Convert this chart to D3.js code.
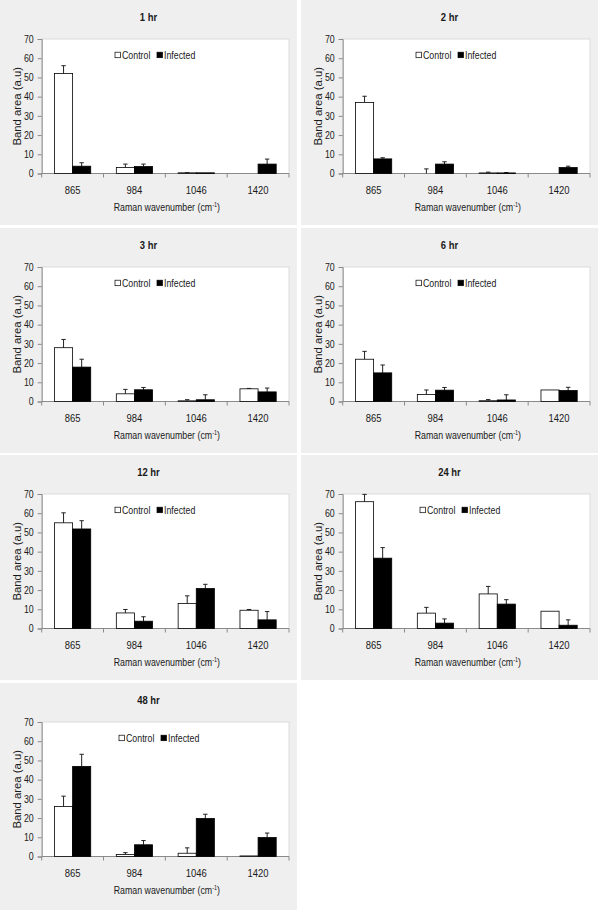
<!DOCTYPE html>
<html>
<head>
<meta charset="utf-8">
<script src="https://cdn.jsdelivr.net/npm/d3@7"></script>
<style>
  html, body { margin: 0; padding: 0; background: #ffffff; }
  svg { display: block; }
  text { font-family: "Liberation Sans", Arial, sans-serif; fill: #1a1a1a; }
</style>
</head>
<body>
<div id="chart"></div>
<script>
// ---- Data ----
const timeLabels = ["1 hr", "2 hr", "3 hr", "6 hr", "12 hr", "24 hr", "48 hr"];
const wavenumbers = ["865", "984", "1046", "1420"];
const seriesNames = ["Control", "Infected"];
const yTicks = [0, 10, 20, 30, 40, 50, 60, 70];

const controlMean = [
  [52, 3.1, 0.35, 0],
  [37, 0, 0.3, 0],
  [28, 4, 0.35, 6.6],
  [22, 3.6, 0.4, 6],
  [55, 8.1, 13, 9.5],
  [66, 8, 18, 9],
  [26, 1, 1.7, 0.3]
];
const controlErr = [
  [4.1, 1.8, 0.1, 0],
  [3.2, 2.4, 0.4, 0],
  [4.3, 2.3, 0.6, 0.2],
  [4.1, 2.4, 0.6, 0],
  [5.2, 1.8, 4, 0.4],
  [3.8, 3, 3.9, 0],
  [5.4, 1, 2.8, 0]
];
const infectedMean = [
  [3.8, 3.6, 0.35, 4.9],
  [7.6, 4.9, 0.3, 3.1],
  [17.9, 6.1, 0.9, 5],
  [14.9, 5.9, 0.8, 5.7],
  [51.8, 3.8, 20.8, 4.5],
  [36.6, 2.8, 12.7, 1.7],
  [46.9, 6.1, 19.8, 9.9]
];
const infectedErr = [
  [1.8, 1.3, 0, 2.6],
  [0.6, 1.2, 0.2, 0.7],
  [4.1, 1.2, 2.6, 2],
  [4.1, 1.4, 2.7, 1.7],
  [4.3, 2.3, 2.2, 4.3],
  [5.5, 2.2, 2.3, 2.8],
  [6.3, 2.2, 2.2, 2.3]
];

// ---- Layout ----
const W = 600, H = 910;
const colX = [0, 301];
const rowY = [0, 228, 455, 683];
const panelW = 297, panelH = 225;
const plot = { left: 41.7, top: 39, width: 247.3, height: 134.5 };
const SX = 0.84; // horizontal text compression

function txt(parent, x, y, str, size, anchor, sx, weight) {
  const gg = parent.append("g").attr("transform", `translate(${x},${y}) scale(${sx},1)`);
  const t = gg.append("text").attr("x", 0).attr("y", 0).attr("font-size", size)
    .attr("text-anchor", anchor || "start");
  if (weight) t.attr("font-weight", weight);
  if (str !== null) t.text(str);
  return t;
}

const svg = d3.select("#chart").append("svg").attr("width", W).attr("height", H);
svg.append("rect").attr("width", W).attr("height", H).attr("fill", "#ffffff");

const x0 = d3.scaleBand().domain(wavenumbers).range([0, plot.width]).paddingInner(0.414).paddingOuter(0.207);
const x1 = d3.scaleBand().domain(seriesNames).range([0, x0.bandwidth()]);
const y = d3.scaleLinear().domain([0, 70]).range([plot.height, 0]);

timeLabels.forEach((t, i) => {
  const col = i % 2, row = Math.floor(i / 2);
  const ph = row === 3 ? H - rowY[row] : panelH;
  const p = svg.append("g").attr("transform", `translate(${colX[col]},${rowY[row]})`);
  p.append("rect").attr("width", panelW).attr("height", ph).attr("fill", "#efefef");

  // title
  txt(p, panelW / 2, 20.5, t, 10.5, "middle", 0.9, "bold");

  const g = p.append("g").attr("transform", `translate(${plot.left},${plot.top})`);
  g.append("rect").attr("width", plot.width).attr("height", plot.height)
    .attr("fill", "#ffffff").attr("stroke", "#dcdcdc").attr("stroke-width", 1);

  // y axis
  const ya = g.append("g").call(d3.axisLeft(y).tickValues(yTicks).tickSize(4).tickFormat(""));
  ya.select(".domain").attr("stroke", "#8a8a8a");
  ya.selectAll(".tick line").attr("stroke", "#8a8a8a");
  yTicks.forEach(v => txt(g, -8, y(v) + 3.8, String(v), 10.5, "end", SX));

  // x axis line + separators
  g.append("line").attr("x1", 0).attr("x2", plot.width).attr("y1", plot.height).attr("y2", plot.height)
    .attr("stroke", "#8a8a8a");
  const seps = d3.range(wavenumbers.length + 1).map(k => k * x0.step());
  g.selectAll(".sep").data(seps).enter().append("line")
    .attr("x1", d => d).attr("x2", d => d).attr("y1", plot.height).attr("y2", plot.height + 4)
    .attr("stroke", "#8a8a8a");
  wavenumbers.forEach(w => txt(g, x0(w) + x0.bandwidth() / 2, plot.height + 20.5, w, 10.5, "middle", 0.9));

  // x title
  const xt = txt(g, plot.width / 2 + 1.5, plot.height + 37, null, 10.5, "middle", SX);
  xt.append("tspan").text("Raman wavenumber  (cm");
  xt.append("tspan").attr("dy", -3.8).attr("font-size", 6.5).text("-1");
  xt.append("tspan").attr("dy", 3.8).text(")");

  // y title
  p.append("text").attr("transform", `translate(20.5,${plot.top + plot.height / 2}) rotate(-90)`)
    .attr("text-anchor", "middle").attr("font-size", 11.3).text("Band area (a.u)");

  // bars
  const means = [controlMean[i], infectedMean[i]];
  const errs = [controlErr[i], infectedErr[i]];
  const fills = ["#ffffff", "#000000"];
  seriesNames.forEach((s, si) => {
    wavenumbers.forEach((w, wi) => {
      const v = means[si][wi], e = errs[si][wi];
      const bx = x0(w) + x1(s);
      const cx = bx + x1.bandwidth() / 2;
      if (e > 0) {
        g.append("line").attr("x1", cx).attr("x2", cx).attr("y1", y(v)).attr("y2", y(v + e))
          .attr("stroke", "#222").attr("stroke-width", 1);
        g.append("line").attr("x1", cx - 2.2).attr("x2", cx + 2.2).attr("y1", y(v + e)).attr("y2", y(v + e))
          .attr("stroke", "#222").attr("stroke-width", 1);
      }
      if (v > 0) {
        g.append("rect").attr("x", bx).attr("y", y(v)).attr("width", x1.bandwidth())
          .attr("height", y(0) - y(v)).attr("fill", fills[si]).attr("stroke", "#000").attr("stroke-width", 0.8);
      }
    });
  });

  // legend
  const lx = (i >= 5 ? 119 : 115) - plot.left, ly = 55 - plot.top;
  const leg = g.append("g").attr("transform", `translate(${lx},${ly})`);
  const offs = [0, 42];
  seriesNames.forEach((s, si) => {
    const lg = leg.append("g").attr("transform", `translate(${offs[si]},0)`);
    lg.append("rect").attr("x", 0).attr("y", -2.8).attr("width", 5.5).attr("height", 5.5)
      .attr("fill", fills[si]).attr("stroke", "#000").attr("stroke-width", 0.7);
    txt(lg, 7, 3.8, s, 10.5, "start", SX);
  });
});
</script>
</body>
</html>
